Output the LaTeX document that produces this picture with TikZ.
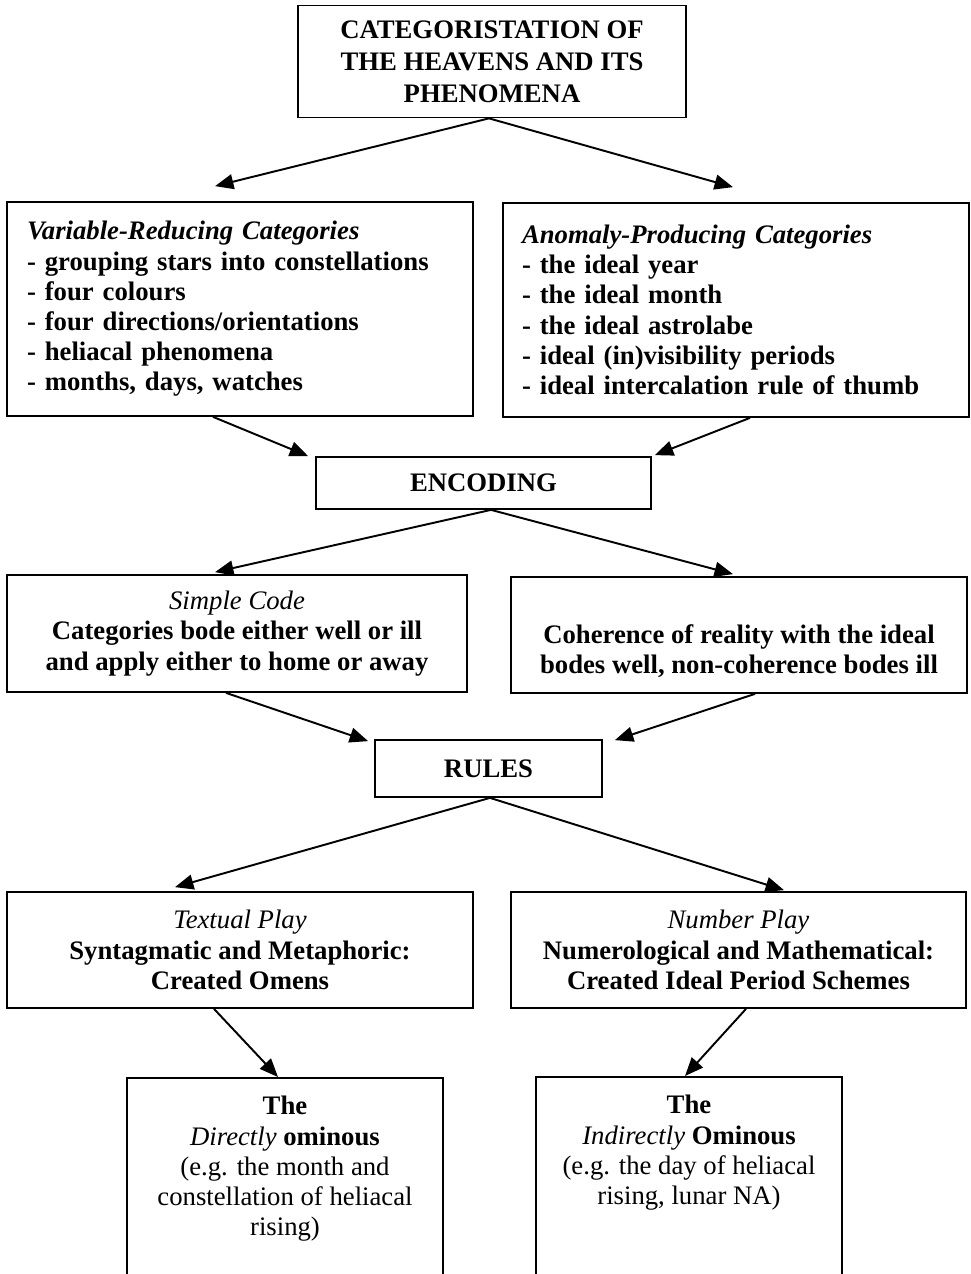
\documentclass[tikz,border=0pt]{standalone}
\usepackage{fontspec}
\setmainfont{Liberation Serif}
\usetikzlibrary{arrows.meta,calc}
\newcommand\fsz{\fontsize{15.2}{17.2}\selectfont}
\tikzset{
  box/.style={draw, line width=1pt, inner ysep=0pt, font=\fsz\bfseries, align=center},
  openbox/.style={draw, line width=1pt, inner xsep=0pt, inner ysep=10.5pt, font=\fsz, align=center, anchor=north, text depth=5cm},
  arr/.style={line width=1.1pt, -{Triangle[length=10.5pt,width=8.5pt]}},
}
\begin{document}
\begin{tikzpicture}[x=0.02cm,y=-0.02cm]
\useasboundingbox (0,0) rectangle (970,1274);
\clip (0,0) rectangle (970,1274);

\node[box, minimum width=7.76cm, minimum height=2.24cm, font=\fontsize{15.2}{18.2}\selectfont\bfseries] (top) at (492,61.5)
  {CATEGORISTATION OF\\THE HEAVENS AND ITS\\PHENOMENA};

\node[box, align=left, minimum width=9.32cm, minimum height=4.28cm, inner xsep=0.4cm, text width=8.52cm] (vr) at (240,309)
  {\textit{Variable-Reducing Categories}\\
   - grouping stars into constellations\\
   - four colours\\
   - four directions/orientations\\
   - heliacal phenomena\\
   - months, days, watches};

\node[box, align=left, minimum width=9.32cm, minimum height=4.28cm, inner xsep=0.38cm, text width=8.56cm] (ap) at (736,310)
  {\textit{Anomaly-Producing Categories}\\
   - the ideal year\\
   - the ideal month\\
   - the ideal astrolabe\\
   - ideal (in)visibility periods\\
   - ideal intercalation rule of thumb};

\node[box, minimum width=6.7cm, minimum height=1.04cm] (enc) at (483.5,483) {ENCODING};

\node[box, minimum width=9.2cm, minimum height=2.34cm] (sc) at (237,633.5)
  {{\normalfont\itshape Simple Code}\\Categories bode either well or ill\\and apply either to home or away};

\node[box, minimum width=9.12cm, minimum height=2.32cm] (coh) at (739,635)
  {\strut\\Coherence of reality with the ideal\\bodes well, non-coherence bodes ill};

\node[box, minimum width=4.54cm, minimum height=1.14cm] (rules) at (488.5,768.5) {RULES};

\node[box, minimum width=9.32cm, minimum height=2.32cm] (tp) at (240,950)
  {{\normalfont\itshape Textual Play}\\Syntagmatic and Metaphoric:\\Created Omens};

\node[box, minimum width=9.1cm, minimum height=2.32cm] (np) at (738.5,950)
  {{\normalfont\itshape Number Play}\\Numerological and Mathematical:\\Created Ideal Period Schemes};

\node[openbox, minimum width=6.32cm] (dir) at (285,1077)
  {\textbf{The}\\\textit{Directly} \textbf{ominous}\\(e.g. the month and\\constellation of heliacal\\rising)};

\node[openbox, minimum width=6.12cm] (ind) at (689,1076)
  {\textbf{The}\\\textit{Indirectly} \textbf{Ominous}\\(e.g. the day of heliacal\\rising, lunar NA)};

\draw[arr] ($(top.south)+(-3,0)$) -- ($(vr.north)+(-25,-15)$);
\draw[arr] ($(top.south)+(-3,0)$) -- ($(ap.north)+(-3,-15)$);
\draw[arr] ($(vr.south)+(-27,0)$) -- ($(enc.north west)+(-7,0)$);
\draw[arr] ($(ap.south)+(14,0)$) -- ($(enc.north east)+(3,-1)$);
\draw[arr] ($(enc.south)+(7.5,0)$) -- ($(sc.north)+(-22,-2)$);
\draw[arr] ($(enc.south)+(7.5,0)$) -- ($(coh.north)+(-6,-2)$);
\draw[arr] ($(sc.south)+(-11,0)$) -- ($(rules.north west)+(-6,2)$);
\draw[arr] ($(coh.south)+(16,0)$) -- ($(rules.north east)+(12,1)$);
\draw[arr] ($(rules.south)+(1.5,0)$) -- ($(tp.north)+(-65,-4)$);
\draw[arr] ($(rules.south)+(1.5,0)$) -- ($(np.north)+(45.5,-1)$);
\draw[arr] ($(tp.south)+(-26,0)$) -- ($(dir.north)+(-7,0)$);
\draw[arr] ($(np.south)+(7.5,0)$) -- ($(ind.north)+(-4,0)$);
\end{tikzpicture}
\end{document}
